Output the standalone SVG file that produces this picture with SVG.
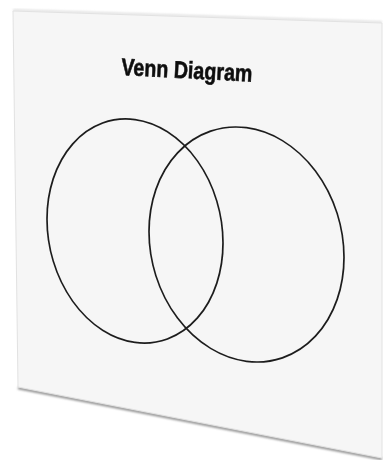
<svg xmlns="http://www.w3.org/2000/svg" width="383" height="460" viewBox="0 0 383 460">
  <defs>
    <filter id="soft" x="-10%" y="-10%" width="120%" height="120%">
      <feGaussianBlur stdDeviation="1.2"/>
    </filter>
    <filter id="blur" x="-5%" y="-5%" width="110%" height="110%">
      <feGaussianBlur stdDeviation="0.45"/>
    </filter>
  </defs>
  <style>
    .set { fill: none; stroke: #1e1e1e; stroke-width: 1.7; }
    .title { font-family: "Liberation Sans", Arial, sans-serif; font-weight: bold; font-size: 24px; fill: #111; stroke: #111; stroke-width: 0.6; }
  </style>
  <rect width="383" height="460" fill="#ffffff"/>
  <g id="page">
    <path d="M18,388 L382,459" stroke="#8a8a8a" stroke-width="2.5" fill="none" filter="url(#soft)"/>
    <path d="M13,10 L382,22" stroke="#d6d6d6" stroke-width="1.5" fill="none" filter="url(#soft)"/>
    <polygon points="13,11 382,23 382,458 18,387" fill="#f6f6f6" stroke="#e2e2e2" stroke-width="1"/>
  </g>
  <g filter="url(#blur)">
    <g id="title">
      <text class="title" transform="translate(121,75) rotate(2.9) scale(0.82,1)">Venn Diagram</text>
    </g>
    <g id="set-a">
      <ellipse class="set" cx="0" cy="0" rx="88" ry="111.4" transform="translate(135,231) skewY(7.7)"/>
    </g>
    <g id="set-b">
      <ellipse class="set" cx="0" cy="0" rx="97.5" ry="116.8" transform="translate(246.5,244.5) skewY(7.5)"/>
    </g>
    <g id="connectors"/>
  </g>
</svg>
